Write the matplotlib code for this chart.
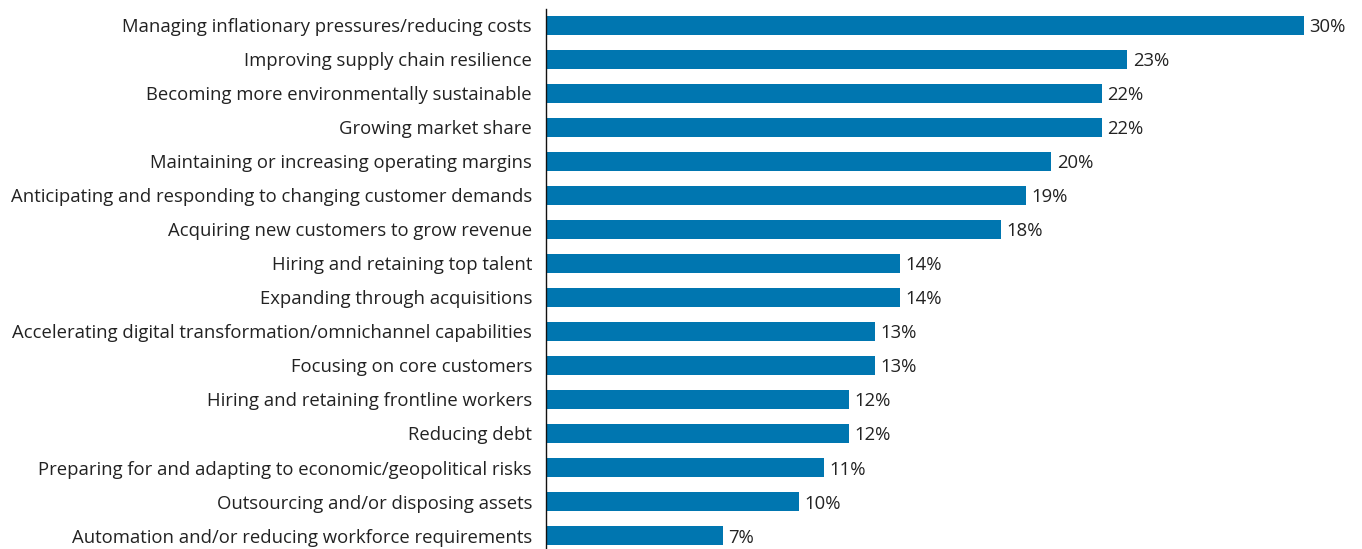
import matplotlib
matplotlib.use("Agg")
import matplotlib.pyplot as plt

categories = [
    "Managing inflationary pressures/reducing costs",
    "Improving supply chain resilience",
    "Becoming more environmentally sustainable",
    "Growing market share",
    "Maintaining or increasing operating margins",
    "Anticipating and responding to changing customer demands",
    "Acquiring new customers to grow revenue",
    "Hiring and retaining top talent",
    "Expanding through acquisitions",
    "Accelerating digital transformation/omnichannel capabilities",
    "Focusing on core customers",
    "Hiring and retaining frontline workers",
    "Reducing debt",
    "Preparing for and adapting to economic/geopolitical risks",
    "Outsourcing and/or disposing assets",
    "Automation and/or reducing workforce requirements",
]
values = [30, 23, 22, 22, 20, 19, 18, 14, 14, 13, 13, 12, 12, 11, 10, 7]

plt.rcParams['font.family'] = ['Open Sans', 'DejaVu Sans']

W, H = 1362, 549
fig = plt.figure(figsize=(W / 100, H / 100), dpi=100)
ax = fig.add_axes([546 / W, 0, 1 - 546 / W, (549 - 9) / H])

y = list(range(len(categories)))
ax.barh(y, values, height=0.56, color='#0076b0')
ax.set_ylim(15.397, -0.485)
ax.set_xlim(0, (W - 546) / 25.27)

ax.set_yticks(y)
ax.set_yticklabels(categories, fontsize=13.3, color='#222222', va='center_baseline')
ax.tick_params(axis='y', length=0, pad=10)
ax.set_xticks([])
for s in ['top', 'right', 'bottom']:
    ax.spines[s].set_visible(False)
ax.spines['left'].set_color('#111111')
ax.spines['left'].set_linewidth(1.0)

for yi, v in zip(y, values):
    ax.annotate(f"{v}%", xy=(v, yi), xytext=(4, 0), textcoords='offset points',
                va='center_baseline', ha='left', fontsize=13.3, color='#222222')

fig.savefig("out.png", dpi=100)
